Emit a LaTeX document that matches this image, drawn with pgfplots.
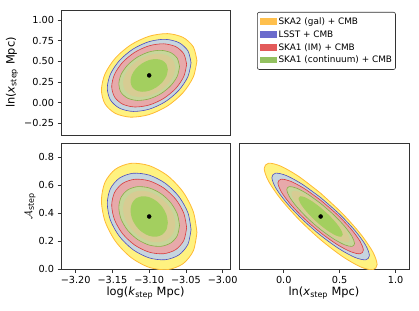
\documentclass[border=0pt]{standalone}
\usepackage{pgfplots}
\pgfplotsset{compat=1.18}
\usepackage{fontspec}
\setmainfont{DejaVu Sans}
\definecolor{yfill}{RGB}{255,242,128}
\definecolor{yedge}{RGB}{255,185,50}
\definecolor{bfill}{RGB}{198,213,223}
\definecolor{bedge}{RGB}{75,75,192}
\definecolor{rfill}{RGB}{231,169,170}
\definecolor{redge}{RGB}{217,58,58}
\definecolor{gfill}{RGB}{199,214,154}
\definecolor{gedge}{RGB}{134,174,70}
\definecolor{tfill}{RGB}{215,204,147}
\definecolor{ginner}{RGB}{163,207,95}
\definecolor{lska}{RGB}{255,192,77}
\definecolor{llsst}{RGB}{107,107,204}
\definecolor{lim}{RGB}{227,90,90}
\definecolor{lcont}{RGB}{147,193,96}
\pgfplotsset{
  tri/.style={scale only axis, axis line style={draw=black!80, line width=0.6pt},
    tick align=outside, tick pos=left, major tick length=3.5pt,
    tick style={black!80, line width=0.6pt},
    tick label style={font=\fontsize{9.7}{11}\selectfont},
    label style={font=\fontsize{11.4}{13}\selectfont}},
  e1/.style={smooth, fill=yfill, draw=yedge, line width=0.8pt, forget plot},
  e2/.style={smooth, fill=bfill, draw=bedge, line width=0.6pt, forget plot},
  e3/.style={smooth, fill=rfill, draw=redge, line width=0.6pt, forget plot},
  e4/.style={smooth, fill=gfill, draw=gedge, line width=0.6pt, forget plot},
  e5/.style={smooth, fill=tfill, draw=none, forget plot},
  e7/.style={smooth, fill=ginner, draw=none, forget plot},
  dot/.style={only marks, mark=*, mark size=2pt, black, forget plot},
}
\begin{document}
\begin{tikzpicture}
\useasboundingbox (0,0) rectangle (419pt,310pt);
% ---------------- top-left: ln x vs log k
\begin{axis}[tri, at={(61pt,175pt)}, anchor=south west, width=169pt, height=125pt,
  xmin=-3.22, xmax=-2.99, ymin=-0.39, ymax=1.12,
  xtick=\empty, ytick={-0.25,0,0.25,0.5,0.75,1}, yticklabels={−0.25,0.00,0.25,0.50,0.75,1.00},
  ylabel={ln(\textit{x}\textsubscript{step} Mpc)},
  ylabel style={at={(axis description cs:-0.29,0.5)}, anchor=center},
  legend style={at={(axis description cs:1.160,0.984)}, anchor=north west,
    draw=black!80, line width=0.6pt, rounded corners=2pt, inner xsep=2.5pt, inner ysep=3pt,
    font=\fontsize{8.9}{10}\selectfont, row sep=0pt, column sep=1pt,
    nodes={inner sep=1pt, text height=8.2pt, text depth=2.6pt}},
  legend cell align=left,
  legend image code/.code={\path[#1, draw=none, sharp corners] (0pt,-3.3pt) rectangle (16.7pt,3.3pt);}]
\addplot[e1] coordinates {(-3.035,.5068) (-3.0399,.6744) (-3.054,.7894) (-3.0751,.8346) (-3.1,.8030) (-3.1249,.6994) (-3.146,.5395) (-3.1601,.3477) (-3.165,.1532) (-3.1601,-.0144) (-3.146,-.1294) (-3.1249,-.1746) (-3.1,-.1430) (-3.0751,-.0394) (-3.054,.1205) (-3.0399,.3123) (-3.035,.5068)};
\addplot[e2] coordinates {(-3.043,.4826) (-3.0473,.6273) (-3.0597,.7267) (-3.0782,.7657) (-3.1,.7384) (-3.1218,.6489) (-3.1403,.5109) (-3.1527,.3453) (-3.157,.1774) (-3.1527,.0327) (-3.1403,-.0667) (-3.1218,-.1057) (-3.1,-.0784) (-3.0782,.0111) (-3.0597,.1491) (-3.0473,.3147) (-3.043,.4826)};
\addplot[e3] coordinates {(-3.049,.4637) (-3.0529,.5905) (-3.0639,.6775) (-3.0805,.7117) (-3.1,.6878) (-3.1195,.6094) (-3.1361,.4885) (-3.1471,.3434) (-3.151,.1963) (-3.1471,.0695) (-3.1361,-.0175) (-3.1195,-.0517) (-3.1,-.0278) (-3.0805,.0506) (-3.0639,.1715) (-3.0529,.3166) (-3.049,.4637)};
\addplot[e4] coordinates {(-3.0587,.4361) (-3.0618,.5366) (-3.0708,.6057) (-3.0842,.6328) (-3.1,.6138) (-3.1158,.5516) (-3.1292,.4557) (-3.1382,.3406) (-3.1413,.2239) (-3.1382,.1234) (-3.1292,.0543) (-3.1158,.0272) (-3.1,.0462) (-3.0842,.1084) (-3.0708,.2043) (-3.0618,.3194) (-3.0587,.4361)};
\addplot[e5] coordinates {(-3.0645,.4214) (-3.0672,.508) (-3.0749,.5675) (-3.0864,.5908) (-3.1,.5745) (-3.1136,.5209) (-3.1251,.4383) (-3.1328,.3392) (-3.1355,.2386) (-3.1328,.152) (-3.1251,.0925) (-3.1136,.0692) (-3.1,.0855) (-3.0864,.1391) (-3.0749,.2217) (-3.0672,.3208) (-3.0645,.4214)};
\addplot[e7] coordinates {(-3.0746,.3993) (-3.0765,.465) (-3.082,.5101) (-3.0903,.5279) (-3.1,.5155) (-3.1097,.4748) (-3.118,.4121) (-3.1235,.337) (-3.1254,.2607) (-3.1235,.195) (-3.118,.1499) (-3.1097,.1321) (-3.1,.1445) (-3.0903,.1852) (-3.082,.2479) (-3.0765,.323) (-3.0746,.3993)};
\addplot[dot] coordinates {(-3.1,0.33)};
\addlegendimage{fill=lska}
\addlegendentry{SKA2 (gal) + CMB}
\addlegendimage{fill=llsst}
\addlegendentry{LSST + CMB}
\addlegendimage{fill=lim}
\addlegendentry{SKA1 (IM) + CMB}
\addlegendimage{fill=lcont}
\addlegendentry{SKA1 (continuum) + CMB}
\end{axis}
% ---------------- bottom-left: A vs log k
\begin{axis}[tri, at={(61pt,41pt)}, anchor=south west, width=169pt, height=126pt,
  xmin=-3.22, xmax=-2.99, ymin=0, ymax=0.9,
  xtick={-3.2,-3.15,-3.1,-3.05,-3.0}, xticklabels={−3.20,−3.15,−3.10,−3.05,−3.00},
  ytick={0,0.2,0.4,0.6,0.8}, yticklabels={0.0,0.2,0.4,0.6,0.8},
  xlabel={log(\textit{k}\textsubscript{step} Mpc)},
  ylabel={$\mathcal{A}$\textsubscript{step}},
  xlabel style={at={(axis description cs:0.5,-0.19)}, anchor=center},
  ylabel style={at={(axis description cs:-0.183,0.5)}, anchor=center}]
\addplot[e1] coordinates {(-3.035,.2607) (-3.0399,.4085) (-3.054,.5512) (-3.0751,.6670) (-3.1,.7384) (-3.1249,.7545) (-3.146,.7128) (-3.1601,.6197) (-3.165,.4893) (-3.1601,.3415) (-3.146,.1988) (-3.1249,.0830) (-3.1,.0116) (-3.0751,-.0045) (-3.054,.0372) (-3.0399,.1303) (-3.035,.2607)};
\addplot[e2] coordinates {(-3.043,.282) (-3.0473,.4022) (-3.0597,.5183) (-3.0782,.6126) (-3.1,.6707) (-3.1218,.6838) (-3.1403,.6498) (-3.1527,.5741) (-3.157,.468) (-3.1527,.3478) (-3.1403,.2317) (-3.1218,.1374) (-3.1,.0793) (-3.0782,.0662) (-3.0597,.1002) (-3.0473,.1759) (-3.043,.282)};
\addplot[e3] coordinates {(-3.049,.2949) (-3.0529,.3985) (-3.0639,.4985) (-3.0805,.5797) (-3.1,.6297) (-3.1195,.641) (-3.1361,.6117) (-3.1471,.5465) (-3.151,.4551) (-3.1471,.3515) (-3.1361,.2515) (-3.1195,.1703) (-3.1,.1203) (-3.0805,.109) (-3.0639,.1383) (-3.0529,.2035) (-3.049,.2949)};
\addplot[e4] coordinates {(-3.0587,.3108) (-3.0618,.3938) (-3.0708,.474) (-3.0842,.539) (-3.1,.5791) (-3.1158,.5882) (-3.1292,.5647) (-3.1382,.5125) (-3.1413,.4392) (-3.1382,.3562) (-3.1292,.276) (-3.1158,.211) (-3.1,.1709) (-3.0842,.1618) (-3.0708,.1853) (-3.0618,.2375) (-3.0587,.3108)};
\addplot[e5] coordinates {(-3.0645,.3198) (-3.0672,.3912) (-3.0749,.4601) (-3.0864,.516) (-3.1,.5505) (-3.1136,.5583) (-3.1251,.5381) (-3.1328,.4932) (-3.1355,.4302) (-3.1328,.3588) (-3.1251,.2899) (-3.1136,.234) (-3.1,.1995) (-3.0864,.1917) (-3.0749,.2119) (-3.0672,.2568) (-3.0645,.3198)};
\addplot[e7] coordinates {(-3.0746,.3315) (-3.0765,.3877) (-3.082,.442) (-3.0903,.4861) (-3.1,.5133) (-3.1097,.5194) (-3.118,.5036) (-3.1235,.4681) (-3.1254,.4185) (-3.1235,.3623) (-3.118,.308) (-3.1097,.2639) (-3.1,.2367) (-3.0903,.2306) (-3.082,.2464) (-3.0765,.2819) (-3.0746,.3315)};
\addplot[dot] coordinates {(-3.1,0.375)};
\end{axis}
% ---------------- bottom-right: A vs ln x
\begin{axis}[tri, at={(239pt,41pt)}, anchor=south west, width=170pt, height=126pt,
  xmin=-0.40, xmax=1.12, ymin=0, ymax=0.9,
  xtick={0,0.5,1}, xticklabels={0.0,0.5,1.0}, ytick=\empty,
  xlabel={ln(\textit{x}\textsubscript{step} Mpc)},
  xlabel style={at={(axis description cs:0.5,-0.19)}, anchor=center}]
\addplot[e1] coordinates {(.33,.5411) (.1367,.6596) (-.0271,.7349) (-.1366,.7554) (-.175,.7179) (-.1366,.6283) (-.0271,.5) (.1367,.3528) (.33,.2089) (.5233,.0904) (.6871,.0151) (.7966,-.0054) (.835,.0321) (.7966,.1217) (.6871,.25) (.5233,.3972) (.33,.5411)};
\addplot[e2] coordinates {(.33,.5101) (.1631,.6066) (.0217,.6678) (-.0728,.6845) (-.106,.654) (-.0728,.5811) (.0217,.4767) (.1631,.3569) (.33,.2399) (.4969,.1434) (.6383,.0822) (.7328,.0655) (.766,.096) (.7328,.1689) (.6383,.2733) (.4969,.3931) (.33,.5101)};
\addplot[e3] coordinates {(.33,.4914) (.1838,.5745) (.0599,.6272) (-.0229,.6415) (-.052,.6153) (-.0229,.5525) (.0599,.4626) (.1838,.3594) (.33,.2586) (.4762,.1755) (.6001,.1228) (.6829,.1085) (.712,.1347) (.6829,.1975) (.6001,.2874) (.4762,.3906) (.33,.4914)};
\addplot[e4] coordinates {(.33,.4683) (.214,.5349) (.1157,.5771) (.0501,.5886) (.027,.5676) (.0501,.5172) (.1157,.4452) (.214,.3625) (.33,.2817) (.446,.2151) (.5443,.1729) (.6099,.1614) (.633,.1824) (.6099,.2328) (.5443,.3048) (.446,.3875) (.33,.4683)};
\addplot[e5] coordinates {(.33,.4552) (.2301,.5125) (.1454,.5488) (.0889,.5587) (.069,.5406) (.0889,.4973) (.1454,.4354) (.2301,.3643) (.33,.2948) (.4299,.2375) (.5146,.2012) (.5711,.1913) (.591,.2094) (.5711,.2527) (.5146,.3146) (.4299,.3857) (.33,.4552)};
\addplot[e7] coordinates {(.33,.4382) (.2542,.4833) (.19,.512) (.1471,.5198) (.132,.5055) (.1471,.4714) (.19,.4226) (.2542,.3665) (.33,.3118) (.4058,.2667) (.47,.238) (.5129,.2302) (.528,.2445) (.5129,.2786) (.47,.3274) (.4058,.3835) (.33,.4382)};
\addplot[dot] coordinates {(0.33,0.375)};
\end{axis}
\end{tikzpicture}
\end{document}
